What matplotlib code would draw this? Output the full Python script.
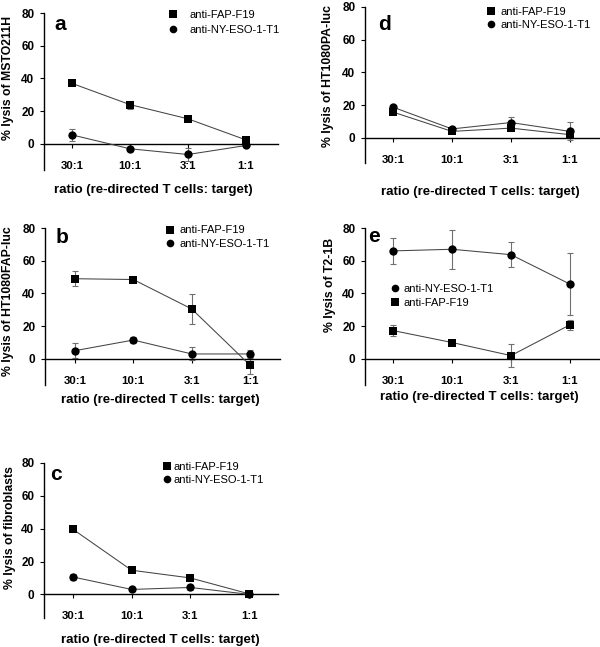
import matplotlib
matplotlib.use("Agg")
import matplotlib.pyplot as plt
from matplotlib.lines import Line2D

plt.rcParams['font.family'] = ['Liberation Sans', 'DejaVu Sans']

categories = ['30:1', '10:1', '3:1', '1:1']
xlabel_text = 'ratio (re-directed T cells: target)'

# panel a
a_fap = [37, 24, 15.3, 2.4]
a_fap_err = [1, 2.5, 1, 1]
a_ny = [5.5, -3, -6.5, -1]
a_ny_err = [3.5, 1, 4, 1]
# panel b
b_fap = [49, 48.5, 30.5, -4]
b_fap_err = [4.5, 1, 9, 5]
b_ny = [5, 11.5, 3, 3]
b_ny_err = [4.5, 2, 4, 2.5]
# panel c
c_fap = [39.7, 14.7, 10, 0.3]
c_fap_err = [1, 1, 1, 0.5]
c_ny = [10.6, 3, 4.2, 0]
c_ny_err = [2, 0.8, 1.5, 0.5]
# panel d
d_fap = [15.8, 4, 6, 2]
d_fap_err = [1, 1, 1.5, 2]
d_ny = [18.8, 5.5, 9.4, 4]
d_ny_err = [1, 1, 3.2, 5.5]
# panel e
e_ny = [66, 67, 63.7, 45.7]
e_ny_err = [8, 12, 7.5, 19]
e_fap = [17.3, 10, 2, 20.8]
e_fap_err = [3.3, 1, 6.8, 3]

FAP = 'anti-FAP-F19'
NY = 'anti-NY-ESO-1-T1'

fig = plt.figure(figsize=(6, 6.47), dpi=100)

panels = [
    dict(letter='a', rect=[0.0733, 0.7372, 0.39, 0.2427], ylim=(-16, 80), xlim=(-0.48, 3.55),
         ylabel='% lysis of MSTO211H', fap=(a_fap, a_fap_err), ny=(a_ny, a_ny_err), order=('fap', 'ny'),
         leg=(0.527, 1.02), tpad=1.0, lsp=0.45, let=(0.043, 0.892), yl=(-0.154, 0.589), xl=(0.468, -0.13)),
    dict(letter='b', rect=[0.075, 0.4049, 0.3917, 0.2427], ylim=(-16, 80), xlim=(-0.51, 3.51),
         ylabel='% lysis of HT1080FAP-luc', fap=(b_fap, b_fap_err), ny=(b_ny, b_ny_err), order=('fap', 'ny'),
         leg=(0.509, 1.016), tpad=0.3, lsp=0.35, let=(0.043, 0.903), yl=(-0.156, 0.535), xl=(0.49, -0.096)),
    dict(letter='c', rect=[0.0733, 0.0448, 0.39, 0.2396], ylim=(-14.4, 80), xlim=(-0.49, 3.49),
         ylabel='% lysis of fibroblasts', fap=(c_fap, c_fap_err), ny=(c_ny, c_ny_err), order=('fap', 'ny'),
         leg=(0.501, 1.006), tpad=0.15, lsp=0.25, let=(0.026, 0.89), yl=(-0.145, 0.584), xl=(0.496, -0.142)),
    dict(letter='d', rect=[0.6083, 0.7481, 0.3917, 0.2411], ylim=(-15.3, 80), xlim=(-0.475, 3.51),
         ylabel='% lysis of HT1080PA-luc', fap=(d_fap, d_fap_err), ny=(d_ny, d_ny_err), order=('fap', 'ny'),
         leg=(0.512, 0.999), tpad=0.37, lsp=0.25, let=(0.054, 0.853), yl=(-0.157, 0.56), xl=(0.49, -0.186)),
    dict(letter='e', rect=[0.6083, 0.4049, 0.3917, 0.2427], ylim=(-16, 80), xlim=(-0.475, 3.51),
         ylabel='% lysis of T2-1B', fap=(e_fap, e_fap_err), ny=(e_ny, e_ny_err), order=('ny', 'fap'),
         leg=(0.105, 0.645), tpad=0.22, lsp=0.35, let=(0.014, 0.913), yl=(-0.149, 0.637), xl=(0.487, -0.076)),
]

line_col = '#444444'
err_col = '#707070'

for p in panels:
    ax = fig.add_axes(p['rect'])
    x = list(range(len(categories)))
    for key, marker, ms in (('fap', 's', 6.3), ('ny', 'o', 6.0)):
        vals, errs = p[key]
        ax.errorbar(x, vals, yerr=errs, fmt='none', ecolor=err_col, elinewidth=0.8,
                    capsize=2.5, capthick=0.8, zorder=2)
        ax.plot(x, vals, color=line_col, lw=0.75, zorder=3)
        ax.plot(x, vals, ls='none', marker=marker, ms=ms, mew=0, color='black', zorder=4)
    ax.set_xlim(*p['xlim'])
    ax.set_ylim(*p['ylim'])
    ax.set_yticks([0, 20, 40, 60, 80])
    ax.set_xticks(x)
    ax.set_xticklabels(categories)
    for s in ('top', 'right'):
        ax.spines[s].set_visible(False)
    ax.spines['bottom'].set_position(('data', 0))
    ax.spines['bottom'].set_linewidth(1.0)
    ax.spines['left'].set_linewidth(1.0)
    ax.tick_params(axis='y', direction='out', length=3, width=0.8, pad=4, labelsize=8.5)
    ax.tick_params(axis='x', direction='out', length=3, width=0.8, pad=9, labelsize=8.2)
    for lab in ax.get_yticklabels() + ax.get_xticklabels():
        lab.set_fontweight('bold')
    ax.set_ylabel(p['ylabel'], fontsize=8.8, fontweight='bold')
    ax.yaxis.set_label_coords(*p['yl'])
    ax.yaxis.label.set_va('center')
    ax.set_xlabel(xlabel_text, fontsize=9.5, fontweight='bold')
    ax.xaxis.set_label_coords(*p['xl'])
    ax.xaxis.label.set_va('center')
    ax.text(p['let'][0], p['let'][1], p['letter'], transform=ax.transAxes,
            fontsize=15, fontweight='bold', va='baseline', ha='left')
    handles = {
        'fap': Line2D([], [], ls='none', marker='s', ms=6, mew=0, color='black'),
        'ny': Line2D([], [], ls='none', marker='o', ms=5.5, mew=0, color='black'),
    }
    names = {'fap': FAP, 'ny': NY}
    order = p['order']
    ax.legend([handles[k] for k in order], [names[k] for k in order],
              loc='upper left', bbox_to_anchor=p['leg'], frameon=False,
              fontsize=8, handlelength=1.0, handletextpad=p['tpad'],
              labelspacing=p['lsp'], borderpad=0, borderaxespad=0)

fig.savefig('out.png', dpi=100)
